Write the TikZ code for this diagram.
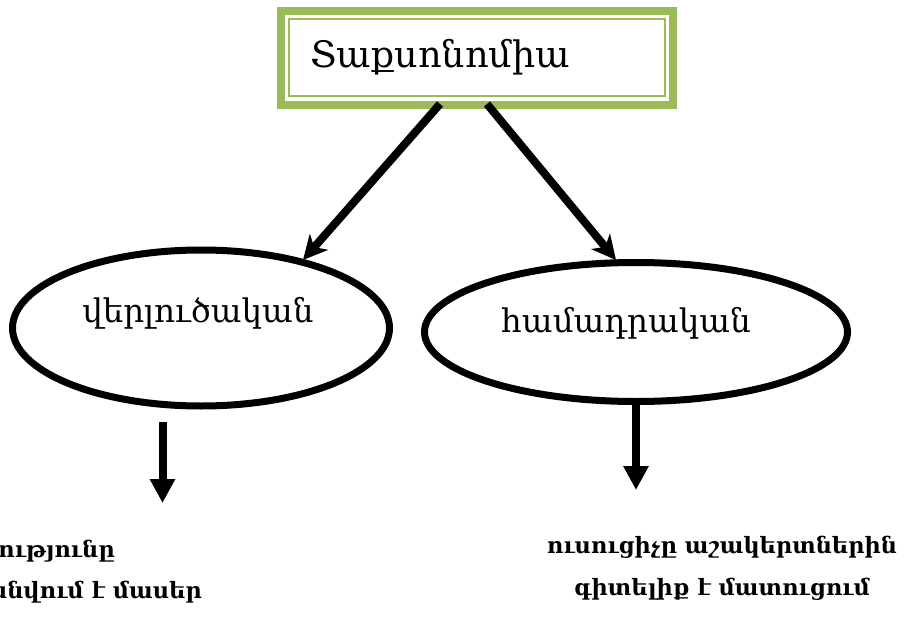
\documentclass[tikz,border=0pt]{standalone}
\usepackage{fontspec}
\setmainfont{DejaVu Serif}
\usetikzlibrary{arrows.meta,shapes.geometric}
\definecolor{boxgreen}{RGB}{155,187,89}
\tikzset{
  oval/.style={ellipse, draw=black, line width=7pt, inner sep=0pt},
  link/.style={line width=8pt, -{Stealth[length=24pt,width=24pt,inset=7pt]}},
  downlink/.style={line width=8pt, -{Triangle[length=24pt,width=24pt]}},
  title/.style={font=\fontsize{36.5}{42}\selectfont},
  ovaltext/.style={font=\fontsize{32.5}{38}\selectfont},
  lowtext/.style={font=\bfseries\fontsize{22.5}{27}\selectfont},
}
\begin{document}
\begin{tikzpicture}[x=1pt,y=-1pt]
\useasboundingbox (0,0) rectangle (905,623);
% title box
\node[draw=boxgreen, line width=8pt, minimum width=392pt, minimum height=94pt, inner sep=0pt] (top) at (477,58) {};
\node[draw=boxgreen, line width=2pt, minimum width=376pt, minimum height=77pt, inner sep=0pt] (topin) at (477,58) {};
\node[title, anchor=base west, inner sep=0pt] (ttl) at (310,68) {Տաքսոնոմիա};
% ovals
\node[oval, minimum width=377pt, minimum height=156pt] (left) at (201,328) {};
\node[ovaltext, anchor=base] (ltxt) at (198,322) {վերլուծական};
\node[oval, minimum width=423pt, minimum height=139pt] (right) at (636,332) {};
\node[ovaltext, anchor=base] (rtxt) at (626,332) {համադրական};
% arrows
\coordinate (a1) at (440,104);
\coordinate (a2) at (487,104);
\coordinate (lt) at (303,260);
\coordinate (rt) at (616,260);
\coordinate (l1) at (162.5,422);
\coordinate (l2) at (162.5,503);
\coordinate (r1) at (636,405);
\coordinate (r2) at (636,490);
\draw[link] (a1) -- (lt);
\draw[link] (a2) -- (rt);
\draw[downlink] (l1) -- (l2);
\draw[downlink] (r1) -- (r2);
% lower texts
\node[lowtext, anchor=base east, inner sep=0pt] (lo1) at (115,557) {Ամբողջությունը};
\node[lowtext, anchor=base east, inner sep=0pt] (lo2) at (202,598) {բաժանվում է մասեր};
\node[lowtext, anchor=base] (ro1) at (722,553) {ուսուցիչը աշակերտներին};
\node[lowtext, anchor=base] (ro2) at (722,595) {գիտելիք է մատուցում};
\end{tikzpicture}
\end{document}
